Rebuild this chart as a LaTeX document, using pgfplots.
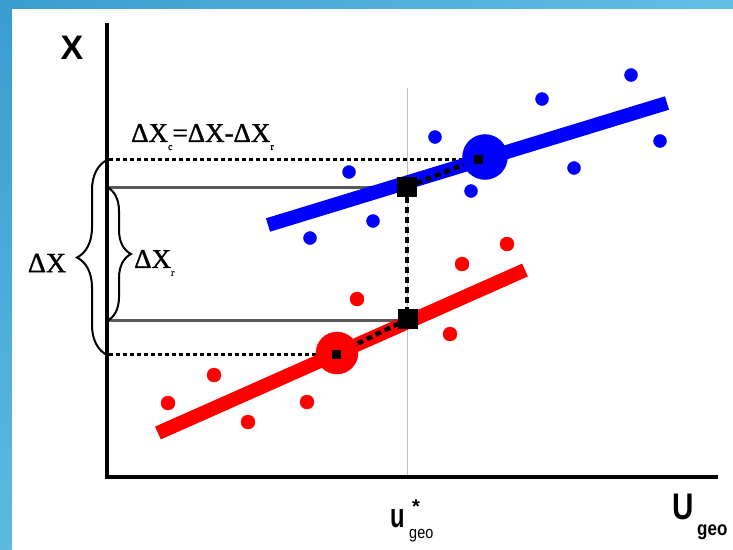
\documentclass[border=0pt]{standalone}
\usepackage{pgfplots}
\pgfplotsset{compat=1.18}
\usepackage{graphicx}
\usepackage{fontspec}
\setmainfont{Liberation Serif}
\newfontfamily\tms[FakeBold=1.2]{Liberation Serif}
\newfontfamily\arial{Liberation Sans}
\usetikzlibrary{decorations.pathreplacing}
\definecolor{frameA}{HTML}{3A9DD0}
\definecolor{frameB}{HTML}{5CB9E1}
\definecolor{frameC}{HTML}{64BEE4}
\begin{document}
\begin{tikzpicture}
\begin{axis}[width=733pt, height=549pt, scale only axis,
  xmin=0, xmax=733, ymin=0, ymax=549, y dir=reverse,
  axis lines=none, clip=false, xtick=\empty, ytick=\empty]
% background frame
\shade[top color=frameA, bottom color=frameB] (axis cs:0,0) rectangle (axis cs:12,549);
\shade[left color=frameA, right color=frameC] (axis cs:0,0) rectangle (axis cs:733,9);
\fill[white] (axis cs:12,9) rectangle (axis cs:733,549);
% vertical guide at u*
\addplot[black!25, line width=1pt, no marks] coordinates {(407,88) (407,477)};
% axes
\addplot[black, line width=4pt, no marks] coordinates {(107,23) (107,479)};
\addplot[black, line width=4pt, no marks] coordinates {(105,477) (718,477)};
% horizontal guide lines
\addplot[black, line width=3pt, dash pattern=on 4pt off 3pt, no marks] coordinates {(109,159) (480,159)};
\addplot[black, line width=3pt, dash pattern=on 4pt off 3pt, no marks] coordinates {(109,354) (337,354)};
\addplot[black!65, line width=3pt, no marks] coordinates {(109,187) (400,187)};
\addplot[black!65, line width=3pt, no marks] coordinates {(109,320) (400,320)};
% blue regression line and points
\addplot[blue, line width=14pt, no marks] coordinates {(268,225) (667,103)};
\addplot[blue, only marks, mark=*, mark size=6.5pt] coordinates {
 (349,172) (435,137) (542,99) (631,75) (660,141) (574,168) (471,191) (373,221) (310,238)};
% red regression line and points
\addplot[red, line width=14pt, no marks] coordinates {(158,433) (525,270)};
\addplot[red, only marks, mark=*, mark size=7pt] coordinates {
 (357,299) (462,264) (507,244) (450,334) (214,375) (168,403) (248,422) (307,402)};
% centroids
\addplot[blue, only marks, mark=*, mark size=22.5pt] coordinates {(485,157)};
\addplot[red, only marks, mark=*, mark size=21pt] coordinates {(337,353)};
% dashed connectors
\addplot[black, line width=4.5pt, dash pattern=on 6pt off 4pt, no marks] coordinates {(407,187) (407,319)};
\addplot[black, line width=4.5pt, dash pattern=on 6pt off 4pt, no marks] coordinates {(407,187) (478,159)};
\addplot[black, line width=4.5pt, dash pattern=on 6pt off 4pt, no marks] coordinates {(408,319) (336,354)};
% squares and small marks
\addplot[black, only marks, mark=square*, mark size=9.5pt] coordinates {(407,187) (408,319)};
\addplot[black, only marks, mark=square*, mark size=4pt] coordinates {(478,159) (336,354)};
% braces
\draw[black, line width=2pt, decorate, decoration={brace, amplitude=30pt}] (axis cs:107,355) -- (axis cs:107,160);
\draw[black, line width=2pt, decorate, decoration={brace, amplitude=24pt}] (axis cs:107,187) -- (axis cs:107,321);
% labels
\node[font={\arial\bfseries\fontsize{34}{34}\selectfont}] at (axis cs:72,48) {X};
\node[font={\arial\bfseries\fontsize{37}{37}\selectfont}, xscale=0.8, inner sep=0pt] at (axis cs:683,507) {U};
\node[font={\arial\bfseries\fontsize{20}{20}\selectfont}, xscale=0.85, inner sep=0pt, anchor=west] at (axis cs:697,532) {geo};
\node[inner sep=0pt, anchor=base west] at (axis cs:390,527) {\scalebox{0.7}[1]{\arial\bfseries\fontsize{34}{34}\selectfont u}\rlap{\hspace{7.5pt}\raisebox{13.5pt}{\arial\bfseries\fontsize{20}{20}\selectfont *}}\hspace{4.5pt}\raisebox{-11.5pt}{\scalebox{0.85}[1]{\arial\fontsize{17}{17}\selectfont geo}}};
\node[font={\tms\fontsize{28}{28}\selectfont}] at (axis cs:47,263) {ΔX};
\node[font={\tms\fontsize{27}{27}\selectfont}, anchor=west, inner sep=0pt] at (axis cs:134,263) {ΔX\raisebox{-8pt}{\fontsize{10}{10}\selectfont r}};
\node[font={\tms\fontsize{27}{27}\selectfont}, anchor=west, inner sep=0pt] at (axis cs:131,137) {ΔX\raisebox{-8pt}{\fontsize{10}{10}\selectfont c}=ΔX-ΔX\raisebox{-8pt}{\fontsize{10}{10}\selectfont r}};
\end{axis}
\end{tikzpicture}
\end{document}
